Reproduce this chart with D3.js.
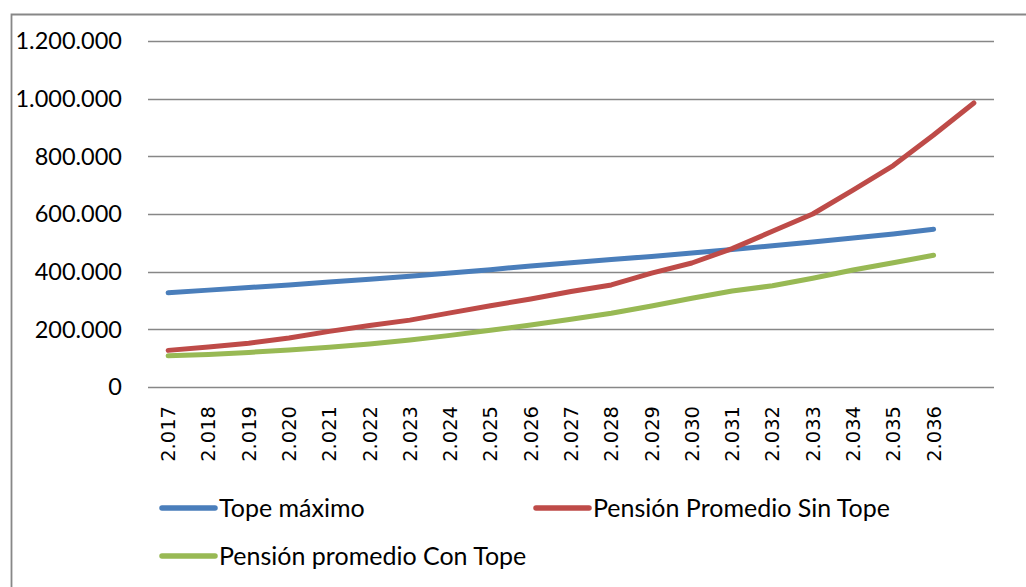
<!DOCTYPE html>
<html>
<head>
<meta charset="utf-8">
<script src="https://cdn.jsdelivr.net/npm/d3@7"></script>
<style>
  html, body { margin: 0; padding: 0; background: #fff; }
  svg { display: block; }
</style>
</head>
<body>
<svg id="chart" width="1026" height="587"></svg>
<script>
// ---- Data ----
const categories = ["2.017","2.018","2.019","2.020","2.021","2.022","2.023","2.024","2.025","2.026",
                    "2.027","2.028","2.029","2.030","2.031","2.032","2.033","2.034","2.035","2.036",""];
const topeMaximo = [327000,336000,345000,354000,364000,374000,384000,395000,407000,420000,
                    431000,442000,453000,465000,477000,490000,503000,517000,531000,547000,null];
const sinTope    = [127000,139000,152000,170000,193000,213000,232000,257000,282000,305000,
                    331000,354000,395000,430000,480000,540000,600000,683000,768000,874000,985000];
const conTope    = [108000,113000,120000,128000,138000,149000,163000,179000,197000,215000,
                    235000,256000,281000,308000,333000,351000,377000,406000,431000,457000,null];
const yTicks = [0,200000,400000,600000,800000,1000000,1200000];
const yTickLabels = ["0","200.000","400.000","600.000","800.000","1.000.000","1.200.000"];
const seriesNames = ["Tope máximo","Pensión Promedio Sin Tope","Pensión promedio Con Tope"];

// ---- Layout ----
const svg = d3.select("#chart");
const plot = {left: 148, right: 994, top: 41, bottom: 387};
const colors = ["#4A7EBB", "#BE4B48", "#98B954"];
const labelFont = "Lato, 'Open Sans', sans-serif";

// outer chart border (left & top visible)
svg.append("path")
  .attr("d", "M11.5,587 L11.5,14.5 L1026,14.5")
  .attr("fill", "none").attr("stroke", "#878787").attr("stroke-width", 1.8);

const x = d3.scaleBand().domain(categories.map((c,i)=>i)).range([plot.left, plot.right]);
const y = d3.scaleLinear().domain([0, 1200000]).range([plot.bottom, plot.top]);

// gridlines
svg.append("g").selectAll("line").data(yTicks).join("line")
  .attr("x1", plot.left).attr("x2", plot.right)
  .attr("y1", d => Math.round(y(d)) + 0.5).attr("y2", d => Math.round(y(d)) + 0.5)
  .attr("stroke", "#878787").attr("stroke-width", 1.4);

// y labels
svg.append("g").selectAll("text").data(yTicks).join("text")
  .attr("x", 122).attr("y", d => y(d)).attr("dy", "0.36em")
  .attr("text-anchor", "end")
  .attr("font-family", labelFont).attr("font-size", 23.5).attr("fill", "#000")
  .text((d,i) => yTickLabels[i]);

// x labels
svg.append("g").selectAll("text").data(categories).join("text")
  .attr("transform", (d,i) => `translate(${x(i) + x.bandwidth()/2},406) rotate(-90)`)
  .attr("dy", "0.36em")
  .attr("text-anchor", "end")
  .attr("font-family", "'DejaVu Sans', sans-serif").attr("font-size", 19.5).attr("fill", "#000")
  .text(d => d);

// lines
const line = d3.line()
  .defined(d => d != null)
  .x((d,i) => x(i) + x.bandwidth()/2)
  .y(d => y(d));

[topeMaximo, sinTope, conTope].forEach((s, k) => {
  svg.append("path")
    .attr("d", line(s))
    .attr("fill", "none")
    .attr("stroke", colors[k])
    .attr("stroke-width", 5)
    .attr("stroke-linecap", "round")
    .attr("stroke-linejoin", "round");
});

// legend
const legendItems = [
  {x: 162, y: 508},
  {x: 536, y: 508},
  {x: 162, y: 556}
];
legendItems.forEach((p, k) => {
  svg.append("line")
    .attr("x1", p.x).attr("x2", p.x + 53)
    .attr("y1", p.y).attr("y2", p.y)
    .attr("stroke", colors[k]).attr("stroke-width", 5.5)
    .attr("stroke-linecap", "round");
  svg.append("text")
    .attr("x", p.x + 57).attr("y", p.y).attr("dy", "0.36em")
    .attr("font-family", labelFont).attr("font-size", 25).attr("fill", "#000")
    .text(seriesNames[k]);
});
</script>
</body>
</html>
